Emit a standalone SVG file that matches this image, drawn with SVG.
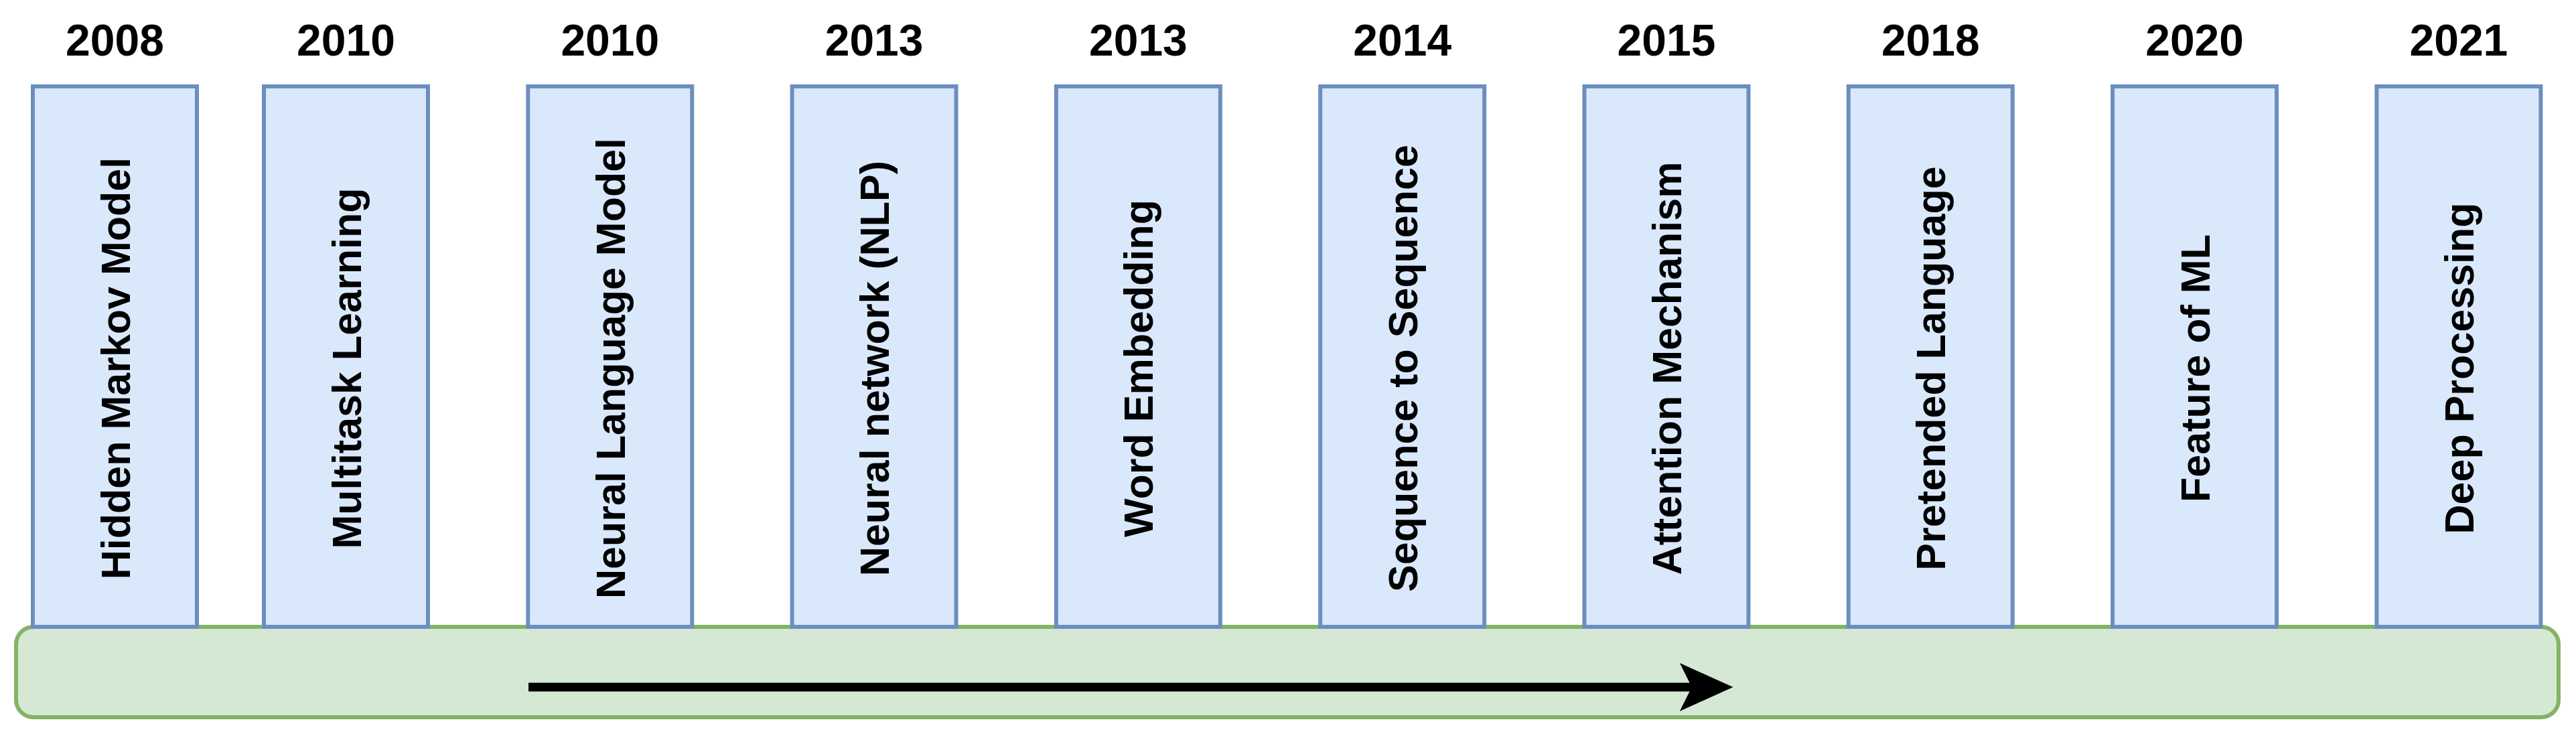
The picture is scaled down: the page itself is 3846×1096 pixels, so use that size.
<svg xmlns="http://www.w3.org/2000/svg" width="3846" height="1096" viewBox="0 0 3846 1096">
<style>
.box{fill:#dae8fc;stroke:#6c8ebf;stroke-width:6}
.base{fill:#d5e8d4;stroke:#82b366;stroke-width:6}
.yr{font-family:"Liberation Sans",Arial,sans-serif;font-weight:bold;font-size:66px;fill:#000;text-anchor:middle}
.lbl{font-family:"Liberation Sans",Arial,sans-serif;font-weight:bold;font-size:61px;fill:#000;text-anchor:middle}
</style>
<rect width="3846" height="1096" fill="#ffffff"/>
<g id="timeline-base"><rect class="base" x="24" y="936" width="3796" height="135" rx="26" ry="26"/></g>
<g id="node-2008"><text class="yr" x="171.5" y="83">2008</text><rect class="box" x="49" y="129" width="245" height="807"/><text class="lbl" transform="translate(193.5,550) rotate(-90)">Hidden Markov Model</text></g>
<g id="node-2010a"><text class="yr" x="516.5" y="83">2010</text><rect class="box" x="394" y="129" width="245" height="807"/><text class="lbl" transform="translate(538.5,550) rotate(-90)">Multitask Learning</text></g>
<g id="node-2010b"><text class="yr" x="910.8" y="83">2010</text><rect class="box" x="788.3" y="129" width="245" height="807"/><text class="lbl" transform="translate(932.8,550) rotate(-90)">Neural Language Model</text></g>
<g id="node-2013a"><text class="yr" x="1305.1" y="83">2013</text><rect class="box" x="1182.6" y="129" width="245" height="807"/><text class="lbl" transform="translate(1327.1,550) rotate(-90)">Neural network (NLP)</text></g>
<g id="node-2013b"><text class="yr" x="1699.4" y="83">2013</text><rect class="box" x="1576.9" y="129" width="245" height="807"/><text class="lbl" transform="translate(1721.4,550) rotate(-90)">Word Embedding</text></g>
<g id="node-2014"><text class="yr" x="2093.7" y="83">2014</text><rect class="box" x="1971.2" y="129" width="245" height="807"/><text class="lbl" transform="translate(2115.7,550) rotate(-90)">Sequence to Sequence</text></g>
<g id="node-2015"><text class="yr" x="2488" y="83">2015</text><rect class="box" x="2365.5" y="129" width="245" height="807"/><text class="lbl" transform="translate(2510,550) rotate(-90)">Attention Mechanism</text></g>
<g id="node-2018"><text class="yr" x="2882.3" y="83">2018</text><rect class="box" x="2759.8" y="129" width="245" height="807"/><text class="lbl" transform="translate(2904.3,550) rotate(-90)">Pretended Language</text></g>
<g id="node-2020"><text class="yr" x="3276.6" y="83">2020</text><rect class="box" x="3154.1" y="129" width="245" height="807"/><text class="lbl" transform="translate(3298.6,550) rotate(-90)">Feature of ML</text></g>
<g id="node-2021"><text class="yr" x="3670.9" y="83">2021</text><rect class="box" x="3548.4" y="129" width="245" height="807"/><text class="lbl" transform="translate(3692.9,550) rotate(-90)">Deep Processing</text></g>
<g id="connectors">
<line x1="789" y1="1026" x2="2530" y2="1026" stroke="#000" stroke-width="13"/>
<polygon points="2585,1026 2510,992 2527,1026 2510,1060" fill="#000" stroke="#000" stroke-width="2" stroke-linejoin="miter"/>
</g>
</svg>
